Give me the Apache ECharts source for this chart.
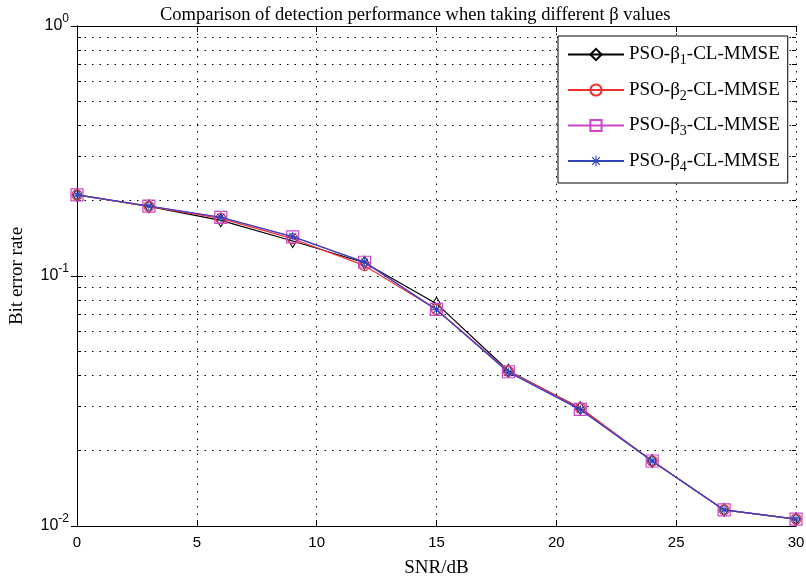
<!DOCTYPE html>
<html>
<head>
<meta charset="utf-8">
<script src="https://cdn.jsdelivr.net/npm/echarts@6/dist/echarts.min.js"></script>
<style>
  html, body { margin: 0; padding: 0; background: #fff; }
  #main { width: 806px; height: 581px; }
</style>
</head>
<body>
<div id="main"></div>
<script>
// SNR values (dB)
const snr = [0, 3, 6, 9, 12, 15, 18, 21, 24, 27, 30];
// bit error rate for each beta
const ber1 = [0.211, 0.190, 0.167, 0.138, 0.113, 0.0775, 0.0418, 0.0296, 0.0182, 0.0116, 0.01066];
const ber2 = [0.211, 0.190, 0.170, 0.141, 0.110, 0.0735, 0.0416, 0.0297, 0.0182, 0.0116, 0.01066];
const ber3 = [0.211, 0.1905, 0.1715, 0.1435, 0.1135, 0.0735, 0.0414, 0.0293, 0.0182, 0.0116, 0.01066];
const ber4 = [0.211, 0.1905, 0.1718, 0.1437, 0.1136, 0.0732, 0.0412, 0.0292, 0.0182, 0.0116, 0.01066];
const seriesNames = ['PSO-β1-CL-MMSE', 'PSO-β2-CL-MMSE', 'PSO-β3-CL-MMSE', 'PSO-β4-CL-MMSE'];
// minor log grid values
const minorGrid = [0.02, 0.03, 0.04, 0.05, 0.06, 0.07, 0.08, 0.09,
                   0.2, 0.3, 0.4, 0.5, 0.6, 0.7, 0.8, 0.9];

const serif = 'Liberation Serif';
const sans = 'Liberation Sans';
const dotted = { color: '#000', width: 1, type: [1.5, 6] };

let myChart = echarts.init(document.getElementById('main'));

function pairs(ys) {
	return snr.map(function (x, i) { return [x, ys[i]]; });
}

// gridlines and short inner ticks at minor log values
let gridLines = [];
minorGrid.forEach(function (v) {
	gridLines.push({ yAxis: v, lineStyle: dotted });
	gridLines.push([{ coord: [0, v] }, { coord: [0.17, v] }]);
	gridLines.push([{ coord: [29.83, v] }, { coord: [30, v] }]);
});

const asterisk = 'path://M-0.5,-5 L0.5,-5 L0.5,5 L-0.5,5 Z M-5,-0.5 L5,-0.5 L5,0.5 L-5,0.5 Z ' +
	'M-3.9,-3.1 L-3.1,-3.9 L3.9,3.1 L3.1,3.9 Z M3.1,-3.9 L3.9,-3.1 L-3.1,3.9 L-3.9,3.1 Z';

let option = {
	backgroundColor: '#fff',
	animation: false,
	title: {
		text: 'Comparison of detection performance when taking different β values',
		left: 155,
		top: 1,
		textStyle: { fontFamily: serif, fontSize: 18.5, fontWeight: 'normal', color: '#000' }
	},
	grid: { left: 77, right: 10, top: 26, bottom: 55, containLabel: false, outerBoundsMode: 'none' },
	legend: {
		orient: 'vertical',
		left: 558,
		top: 36,
		padding: [9, 8, 9, 9],
		itemWidth: 56,
		itemHeight: 14,
		itemGap: 13,
		backgroundColor: '#fff',
		borderColor: '#000',
		borderWidth: 1,
		borderRadius: 0,
		data: seriesNames,
		formatter: function (name) {
			let n = name.charAt(5);
			return '{a|PSO-β}{s|' + n + '}{a|-CL-MMSE}';
		},
		textStyle: {
			rich: {
				a: { fontFamily: serif, fontSize: 19, color: '#000' },
				s: { fontFamily: serif, fontSize: 14, color: '#000', padding: [12, 0, 0, 0] }
			}
		}
	},
	xAxis: [{
		type: 'value',
		min: 0,
		max: 30,
		interval: 5,
		name: 'SNR/dB',
		nameLocation: 'middle',
		nameGap: 33,
		nameTextStyle: { fontFamily: serif, fontSize: 19, color: '#000' },
		axisLine: { lineStyle: { color: '#000', width: 1 } },
		axisTick: { inside: true, length: 6, lineStyle: { color: '#000' } },
		axisLabel: { fontFamily: sans, fontSize: 15, color: '#000', margin: 9 },
		splitLine: { show: true, lineStyle: dotted }
	}, {
		type: 'value',
		position: 'top',
		min: 0,
		max: 30,
		interval: 5,
		axisLine: { lineStyle: { color: '#000', width: 1 } },
		axisTick: { inside: true, length: 6, lineStyle: { color: '#000' } },
		axisLabel: { show: false },
		splitLine: { show: false }
	}],
	yAxis: [{
		type: 'log',
		logBase: 10,
		min: 0.01,
		max: 1,
		name: 'Bit error rate',
		nameLocation: 'middle',
		nameGap: 50,
		nameTextStyle: { fontFamily: serif, fontSize: 19, color: '#000' },
		axisLine: { show: true, lineStyle: { color: '#000', width: 1 } },
		axisTick: { inside: true, length: 6, lineStyle: { color: '#000' } },
		axisLabel: {
			margin: 8,
			formatter: function (v) {
				return '{b|10}{s|' + Math.round(Math.log10(v)) + '}';
			},
			rich: {
				b: { fontFamily: sans, fontSize: 16, color: '#000' },
				s: { fontFamily: sans, fontSize: 12, color: '#000', padding: [0, 0, 14, 0] }
			}
		},
		splitLine: { show: true, lineStyle: dotted }
	}, {
		type: 'log',
		logBase: 10,
		min: 0.01,
		max: 1,
		position: 'right',
		axisLine: { show: true, lineStyle: { color: '#000', width: 1 } },
		axisTick: { inside: true, length: 6, lineStyle: { color: '#000' } },
		axisLabel: { show: false },
		splitLine: { show: false }
	}],
	series: [{
		name: seriesNames[0],
		type: 'line',
		data: pairs(ber1),
		symbol: 'diamond',
		symbolSize: [8, 13],
		lineStyle: { color: '#000', width: 1.2 },
		itemStyle: { color: 'rgba(0,0,0,0)', borderColor: '#000', borderWidth: 1 },
		z: 3,
		markLine: {
			silent: true,
			symbol: ['none', 'none'],
			label: { show: false },
			lineStyle: { color: '#000', width: 1, type: 'solid' },
			emphasis: { disabled: true },
			data: gridLines,
			z: 1
		}
	}, {
		name: seriesNames[1],
		type: 'line',
		data: pairs(ber2),
		symbol: 'circle',
		symbolSize: 10,
		lineStyle: { color: '#f03030', width: 1.2 },
		itemStyle: { color: 'rgba(0,0,0,0)', borderColor: '#f03030', borderWidth: 1.2 },
		z: 4
	}, {
		name: seriesNames[2],
		type: 'line',
		data: pairs(ber3),
		symbol: 'rect',
		symbolSize: 12,
		lineStyle: { color: '#cc44cc', width: 1.2 },
		itemStyle: { color: 'rgba(0,0,0,0)', borderColor: '#cc44cc', borderWidth: 1.2 },
		z: 5
	}, {
		name: seriesNames[3],
		type: 'line',
		data: pairs(ber4),
		symbol: asterisk,
		symbolSize: 10,
		lineStyle: { color: '#3344bb', width: 1.2 },
		itemStyle: { color: '#3344bb', borderWidth: 0 },
		z: 6
	}]
};

myChart.setOption(option);
</script>
</body>
</html>
